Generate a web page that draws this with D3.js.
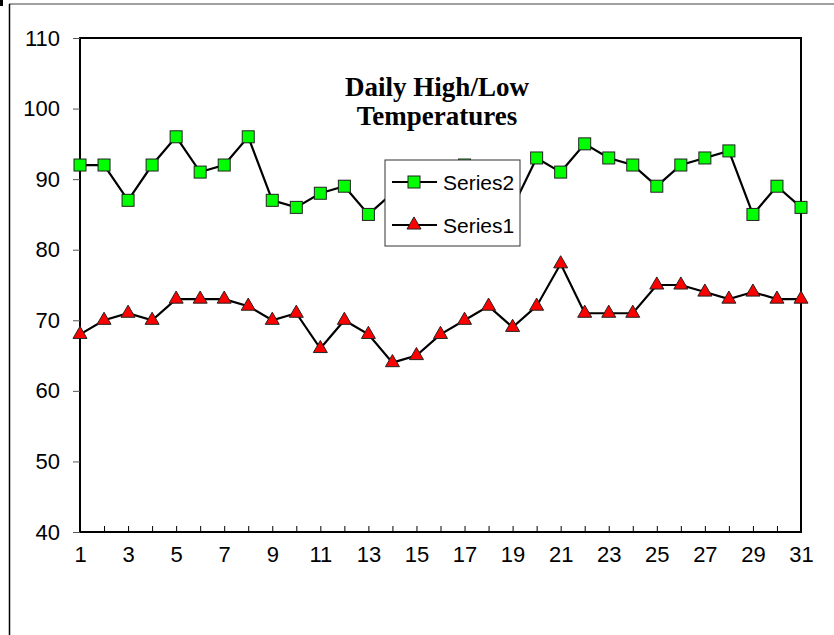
<!DOCTYPE html>
<meta charset="utf-8" />
<title>Daily High/Low Temperatures</title>
<script src="https://d3js.org/d3.v7.min.js"></script>
<style>
body { margin: 0; background: #fff; }
text { font-family: 'Liberation Sans', Arial, sans-serif; fill: #000; }
.title { font-family: 'Liberation Serif', 'Times New Roman', serif; font-weight: bold; font-size: 27px; }
</style>
<div id="chart"></div>
<script>
// days of the month
var days = d3.range(1, 32);
// daily highs (Series2) and lows (Series1)
var highs = [92, 92, 87, 92, 96, 91, 92, 96, 87, 86, 88, 89, 85, 88, 90, 91, 92, 89, 86, 93, 91, 95, 93, 92, 89, 92, 93, 94, 85, 89, 86];
var lows = [68, 70, 71, 70, 73, 73, 73, 72, 70, 71, 66, 70, 68, 64, 65, 68, 70, 72, 69, 72, 78, 71, 71, 71, 75, 75, 74, 73, 74, 73, 73];
var yTicks = [40, 50, 60, 70, 80, 90, 100, 110];

var W = 834, H = 635;
var margin = { top: 38, right: 33, bottom: 103, left: 80 },
    width = W - margin.left - margin.right,
    height = H - margin.top - margin.bottom;

var svg = d3.select("#chart").append("svg")
    .attr("width", W)
    .attr("height", H);

// outer chart frame
svg.append("line").attr("x1", 9).attr("y1", 4).attr("x2", W).attr("y2", 4)
    .attr("stroke", "#808080").attr("stroke-width", 1.5);
svg.append("line").attr("x1", 9.5).attr("y1", 4).attr("x2", 9.5).attr("y2", H)
    .attr("stroke", "#000").attr("stroke-width", 1.5);
svg.append("rect").attr("x", 0).attr("y", 0).attr("width", 3).attr("height", 6).attr("fill", "#000");

var g = svg.append("g")
    .attr("transform", "translate(" + margin.left + "," + margin.top + ")");

var x = d3.scaleLinear().domain([1, 31]).range([0, width]);
var y = d3.scaleLinear().domain([40, 110]).range([height, 0]);

// plot area box
g.append("rect")
    .attr("width", width)
    .attr("height", height)
    .attr("fill", "none")
    .attr("stroke", "#000")
    .attr("stroke-width", 2);

// y axis
var yAxis = g.append("g")
    .call(d3.axisLeft(y).tickValues(yTicks).tickSize(7).tickPadding(13));
yAxis.select(".domain").remove();
yAxis.selectAll(".tick line").attr("stroke", "#555");
yAxis.selectAll(".tick text")
    .style("font-size", "22px")
    .style("font-family", "'Liberation Sans', Arial, sans-serif");

// x axis, ticks pointing inward
var xAxis = g.append("g")
    .attr("transform", "translate(0," + height + ")")
    .call(d3.axisBottom(x).tickValues(days).tickSize(-6).tickPadding(14)
        .tickFormat(function(d) { return d % 2 == 1 ? d : ""; }));
xAxis.select(".domain").remove();
xAxis.selectAll(".tick line").attr("stroke", "#000");
xAxis.selectAll(".tick text")
    .style("font-size", "22px")
    .style("font-family", "'Liberation Sans', Arial, sans-serif");

var line = d3.line()
    .x(function(d, i) { return x(days[i]); })
    .y(function(d) { return y(d); });

// Series2 (highs)
g.append("path")
    .datum(highs)
    .attr("fill", "none")
    .attr("stroke", "#000")
    .attr("stroke-width", 2.2)
    .attr("d", line);
g.selectAll(".sq")
    .data(highs)
    .enter().append("rect")
    .attr("class", "sq")
    .attr("x", function(d, i) { return x(days[i]) - 6; })
    .attr("y", function(d) { return y(d) - 6; })
    .attr("width", 12)
    .attr("height", 12)
    .attr("fill", "#00ff00")
    .attr("stroke", "#222")
    .attr("stroke-width", 1);

// Series1 (lows)
var tri = d3.symbol().type(d3.symbolTriangle).size(85);
g.append("path")
    .datum(lows)
    .attr("fill", "none")
    .attr("stroke", "#000")
    .attr("stroke-width", 2.2)
    .attr("d", line);
g.selectAll(".tri")
    .data(lows)
    .enter().append("path")
    .attr("class", "tri")
    .attr("d", tri)
    .attr("transform", function(d, i) { return "translate(" + x(days[i]) + "," + y(d) + ")"; })
    .attr("fill", "#ff0000")
    .attr("stroke", "#222")
    .attr("stroke-width", 1);

// title
var title = svg.append("text")
    .attr("class", "title")
    .attr("text-anchor", "middle");
title.append("tspan").attr("x", 437).attr("y", 96).text("Daily High/Low");
title.append("tspan").attr("x", 437).attr("y", 125).text("Temperatures");

// legend
var legend = svg.append("g").attr("transform", "translate(385,160)");
legend.append("rect")
    .attr("width", 135)
    .attr("height", 86)
    .attr("fill", "#fff")
    .attr("stroke", "#333")
    .attr("stroke-width", 1);
var entries = [
    { name: "Series2", y: 22, kind: "sq", color: "#00ff00" },
    { name: "Series1", y: 65, kind: "tri", color: "#ff0000" }
];
entries.forEach(function(e) {
    legend.append("line")
        .attr("x1", 7).attr("x2", 52)
        .attr("y1", e.y).attr("y2", e.y)
        .attr("stroke", "#000").attr("stroke-width", 2.2);
    if (e.kind == "sq") {
        legend.append("rect")
            .attr("x", 29 - 6).attr("y", e.y - 6)
            .attr("width", 12).attr("height", 12)
            .attr("fill", e.color).attr("stroke", "#222");
    } else {
        legend.append("path")
            .attr("d", tri)
            .attr("transform", "translate(29," + e.y + ")")
            .attr("fill", e.color).attr("stroke", "#222");
    }
    legend.append("text")
        .attr("x", 58)
        .attr("y", e.y)
        .attr("dy", "0.36em")
        .style("font-size", "21px")
        .text(e.name);
});
</script>
